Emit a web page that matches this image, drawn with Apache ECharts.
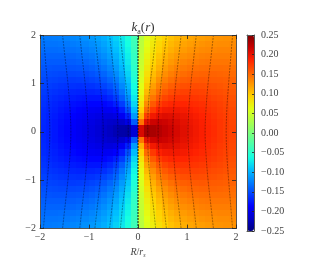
<!DOCTYPE html>
<html><head><meta charset="utf-8">
<script src="https://cdn.jsdelivr.net/npm/echarts@6/dist/echarts.min.js"></script>
<style>html,body{margin:0;padding:0;background:#fff}#c{width:316px;height:263px}</style>
</head><body><div id="c"></div>
<script>
// cell centres (R/r_s, left->right) and (z, top->bottom)
const rCenters = [-1.9375,-1.8125,-1.6875,-1.5625,-1.4375,-1.3125,-1.1875,-1.0625,-0.9375,-0.8125,-0.6875,-0.5625,-0.4375,-0.3125,-0.1875,-0.0625,
  0.0625,0.1875,0.3125,0.4375,0.5625,0.6875,0.8125,0.9375,1.0625,1.1875,1.3125,1.4375,1.5625,1.6875,1.8125,1.9375];
const zCenters = [1.9375,1.8125,1.6875,1.5625,1.4375,1.3125,1.1875,1.0625,0.9375,0.8125,0.6875,0.5625,0.4375,0.3125,0.1875,0.0625,
  -0.0625,-0.1875,-0.3125,-0.4375,-0.5625,-0.6875,-0.8125,-0.9375,-1.0625,-1.1875,-1.3125,-1.4375,-1.5625,-1.6875,-1.8125,-1.9375];
// k_a(r) values, rows top->bottom
const kaGrid = [
[-.128,-.128,-.127,-.126,-.124,-.122,-.120,-.117,-.113,-.108,-.102,-.094,-.085,-.074,-.059,-.036,.036,.059,.074,.085,.094,.102,.108,.113,.117,.120,.122,.124,.126,.127,.128,.128],
[-.132,-.131,-.131,-.130,-.129,-.127,-.125,-.122,-.118,-.113,-.107,-.099,-.090,-.078,-.062,-.038,.038,.062,.078,.090,.099,.107,.113,.118,.122,.125,.127,.129,.130,.131,.131,.132],
[-.135,-.135,-.135,-.134,-.133,-.132,-.130,-.127,-.123,-.118,-.112,-.104,-.094,-.082,-.066,-.040,.040,.066,.082,.094,.104,.112,.118,.123,.127,.130,.132,.133,.134,.135,.135,.135],
[-.139,-.139,-.139,-.139,-.138,-.137,-.135,-.132,-.129,-.124,-.118,-.110,-.100,-.087,-.070,-.043,.043,.070,.087,.100,.110,.118,.124,.129,.132,.135,.137,.138,.139,.139,.139,.139],
[-.142,-.143,-.143,-.143,-.143,-.142,-.140,-.138,-.135,-.130,-.124,-.116,-.106,-.092,-.074,-.045,.045,.074,.092,.106,.116,.124,.130,.135,.138,.140,.142,.143,.143,.143,.143,.142],
[-.146,-.147,-.148,-.148,-.148,-.147,-.146,-.144,-.141,-.137,-.131,-.123,-.112,-.098,-.079,-.048,.048,.079,.098,.112,.123,.131,.137,.141,.144,.146,.147,.148,.148,.148,.147,.146],
[-.149,-.151,-.152,-.153,-.153,-.153,-.152,-.151,-.148,-.144,-.138,-.130,-.119,-.105,-.085,-.052,.052,.085,.105,.119,.130,.138,.144,.148,.151,.152,.153,.153,.153,.152,.151,.149],
[-.153,-.155,-.156,-.157,-.158,-.159,-.158,-.157,-.155,-.152,-.146,-.138,-.128,-.112,-.091,-.056,.056,.091,.112,.128,.138,.146,.152,.155,.157,.158,.159,.158,.157,.156,.155,.153],
[-.156,-.158,-.160,-.162,-.163,-.164,-.165,-.164,-.163,-.160,-.155,-.148,-.137,-.121,-.098,-.061,.061,.098,.121,.137,.148,.155,.160,.163,.164,.165,.164,.163,.162,.160,.158,.156],
[-.159,-.162,-.164,-.166,-.168,-.170,-.171,-.171,-.171,-.169,-.165,-.158,-.147,-.131,-.107,-.066,.066,.107,.131,.147,.158,.165,.169,.171,.171,.171,.170,.168,.166,.164,.162,.159],
[-.162,-.165,-.168,-.170,-.173,-.175,-.177,-.178,-.178,-.178,-.175,-.169,-.159,-.143,-.118,-.073,.073,.118,.143,.159,.169,.175,.178,.178,.178,.177,.175,.173,.170,.168,.165,.162],
[-.164,-.168,-.171,-.174,-.177,-.180,-.182,-.184,-.186,-.186,-.185,-.181,-.173,-.158,-.132,-.082,.082,.132,.158,.173,.181,.185,.186,.186,.184,.182,.180,.177,.174,.171,.168,.164],
[-.167,-.170,-.173,-.177,-.180,-.184,-.187,-.190,-.193,-.195,-.195,-.194,-.188,-.175,-.149,-.095,.095,.149,.175,.188,.194,.195,.195,.193,.190,.187,.184,.180,.177,.173,.170,.167],
[-.168,-.172,-.175,-.179,-.183,-.187,-.191,-.195,-.199,-.202,-.205,-.206,-.203,-.195,-.172,-.112,.112,.172,.195,.203,.206,.205,.202,.199,.195,.191,.187,.183,.179,.175,.172,.168],
[-.169,-.173,-.177,-.181,-.185,-.189,-.194,-.198,-.203,-.208,-.212,-.216,-.218,-.216,-.202,-.143,.143,.202,.216,.218,.216,.212,.208,.203,.198,.194,.189,.185,.181,.177,.173,.169],
[-.170,-.173,-.177,-.182,-.186,-.190,-.195,-.200,-.205,-.211,-.216,-.221,-.227,-.232,-.234,-.210,.210,.234,.232,.227,.221,.216,.211,.205,.200,.195,.190,.186,.182,.177,.173,.170],
[-.170,-.173,-.177,-.182,-.186,-.190,-.195,-.200,-.205,-.211,-.216,-.221,-.227,-.232,-.234,-.210,.210,.234,.232,.227,.221,.216,.211,.205,.200,.195,.190,.186,.182,.177,.173,.170],
[-.169,-.173,-.177,-.181,-.185,-.189,-.194,-.198,-.203,-.208,-.212,-.216,-.218,-.216,-.202,-.143,.143,.202,.216,.218,.216,.212,.208,.203,.198,.194,.189,.185,.181,.177,.173,.169],
[-.168,-.172,-.175,-.179,-.183,-.187,-.191,-.195,-.199,-.202,-.205,-.206,-.203,-.195,-.172,-.112,.112,.172,.195,.203,.206,.205,.202,.199,.195,.191,.187,.183,.179,.175,.172,.168],
[-.167,-.170,-.173,-.177,-.180,-.184,-.187,-.190,-.193,-.195,-.195,-.194,-.188,-.175,-.149,-.095,.095,.149,.175,.188,.194,.195,.195,.193,.190,.187,.184,.180,.177,.173,.170,.167],
[-.164,-.168,-.171,-.174,-.177,-.180,-.182,-.184,-.186,-.186,-.185,-.181,-.173,-.158,-.132,-.082,.082,.132,.158,.173,.181,.185,.186,.186,.184,.182,.180,.177,.174,.171,.168,.164],
[-.162,-.165,-.168,-.170,-.173,-.175,-.177,-.178,-.178,-.178,-.175,-.169,-.159,-.143,-.118,-.073,.073,.118,.143,.159,.169,.175,.178,.178,.178,.177,.175,.173,.170,.168,.165,.162],
[-.159,-.162,-.164,-.166,-.168,-.170,-.171,-.171,-.171,-.169,-.165,-.158,-.147,-.131,-.107,-.066,.066,.107,.131,.147,.158,.165,.169,.171,.171,.171,.170,.168,.166,.164,.162,.159],
[-.156,-.158,-.160,-.162,-.163,-.164,-.165,-.164,-.163,-.160,-.155,-.148,-.137,-.121,-.098,-.061,.061,.098,.121,.137,.148,.155,.160,.163,.164,.165,.164,.163,.162,.160,.158,.156],
[-.153,-.155,-.156,-.157,-.158,-.159,-.158,-.157,-.155,-.152,-.146,-.138,-.128,-.112,-.091,-.056,.056,.091,.112,.128,.138,.146,.152,.155,.157,.158,.159,.158,.157,.156,.155,.153],
[-.149,-.151,-.152,-.153,-.153,-.153,-.152,-.151,-.148,-.144,-.138,-.130,-.119,-.105,-.085,-.052,.052,.085,.105,.119,.130,.138,.144,.148,.151,.152,.153,.153,.153,.152,.151,.149],
[-.146,-.147,-.148,-.148,-.148,-.147,-.146,-.144,-.141,-.137,-.131,-.123,-.112,-.098,-.079,-.048,.048,.079,.098,.112,.123,.131,.137,.141,.144,.146,.147,.148,.148,.148,.147,.146],
[-.142,-.143,-.143,-.143,-.143,-.142,-.140,-.138,-.135,-.130,-.124,-.116,-.106,-.092,-.074,-.045,.045,.074,.092,.106,.116,.124,.130,.135,.138,.140,.142,.143,.143,.143,.143,.142],
[-.139,-.139,-.139,-.139,-.138,-.137,-.135,-.132,-.129,-.124,-.118,-.110,-.100,-.087,-.070,-.043,.043,.070,.087,.100,.110,.118,.124,.129,.132,.135,.137,.138,.139,.139,.139,.139],
[-.135,-.135,-.135,-.134,-.133,-.132,-.130,-.127,-.123,-.118,-.112,-.104,-.094,-.082,-.066,-.040,.040,.066,.082,.094,.104,.112,.118,.123,.127,.130,.132,.133,.134,.135,.135,.135],
[-.132,-.131,-.131,-.130,-.129,-.127,-.125,-.122,-.118,-.113,-.107,-.099,-.090,-.078,-.062,-.038,.038,.062,.078,.090,.099,.107,.113,.118,.122,.125,.127,.129,.130,.131,.131,.132],
[-.128,-.128,-.127,-.126,-.124,-.122,-.120,-.117,-.113,-.108,-.102,-.094,-.085,-.074,-.059,-.036,.036,.059,.074,.085,.094,.102,.108,.113,.117,.120,.122,.124,.126,.127,.128,.128]
];
const axisTickValues = [-2,-1,0,1,2];
const cbTickValues = [-0.25,-0.20,-0.15,-0.10,-0.05,0,0.05,0.10,0.15,0.20,0.25];
const jetColors = ['#000080','#0000c8','#0000ff','#0040ff','#0080ff','#00bfff','#14ffe2','#48ffaf','#7bff7b','#afff48','#e2ff14','#ffd200','#ff9700','#ff5c00','#ff2100','#c80000','#800000'];
// overlaid contour lines, [R, z] points
const contourLines = [
 [[0,2],[0,-2]],
 [[0.36,2],[0.31,1.5],[0.25,1],[0.21,0.5],[0.2,0],[0.21,-0.5],[0.25,-1],[0.31,-1.5],[0.36,-2]],
 [[0.58,2],[0.525,1.5],[0.47,1],[0.43,0.5],[0.41,0],[0.43,-0.5],[0.47,-1],[0.525,-1.5],[0.58,-2]],
 [[0.88,2],[0.825,1.5],[0.77,1],[0.73,0.5],[0.71,0],[0.73,-0.5],[0.77,-1],[0.825,-1.5],[0.88,-2]],
 [[1.19,2],[1.135,1.5],[1.08,1],[1.04,0.5],[1.02,0],[1.04,-0.5],[1.08,-1],[1.135,-1.5],[1.19,-2]],
 [[1.54,2],[1.485,1.5],[1.43,1],[1.39,0.5],[1.37,0],[1.39,-0.5],[1.43,-1],[1.485,-1.5],[1.54,-2]],
 [[1.93,2],[1.89,1.5],[1.85,1],[1.815,0.5],[1.80,0],[1.815,-0.5],[1.85,-1],[1.89,-1.5],[1.93,-2]],
 [[-0.36,2],[-0.31,1.5],[-0.25,1],[-0.21,0.5],[-0.2,0],[-0.21,-0.5],[-0.25,-1],[-0.31,-1.5],[-0.36,-2]],
 [[-0.58,2],[-0.525,1.5],[-0.47,1],[-0.43,0.5],[-0.41,0],[-0.43,-0.5],[-0.47,-1],[-0.525,-1.5],[-0.58,-2]],
 [[-0.88,2],[-0.825,1.5],[-0.77,1],[-0.73,0.5],[-0.71,0],[-0.73,-0.5],[-0.77,-1],[-0.825,-1.5],[-0.88,-2]],
 [[-1.19,2],[-1.135,1.5],[-1.08,1],[-1.04,0.5],[-1.02,0],[-1.04,-0.5],[-1.08,-1],[-1.135,-1.5],[-1.19,-2]],
 [[-1.54,2],[-1.485,1.5],[-1.43,1],[-1.39,0.5],[-1.37,0],[-1.39,-0.5],[-1.43,-1],[-1.485,-1.5],[-1.54,-2]],
 [[-1.93,2],[-1.89,1.5],[-1.85,1],[-1.815,0.5],[-1.80,0],[-1.815,-0.5],[-1.85,-1],[-1.89,-1.5],[-1.93,-2]]
];

const cells = [];
for (let i = 0; i < zCenters.length; i++)
  for (let j = 0; j < rCenters.length; j++)
    cells.push([rCenters[j], zCenters[i], kaGrid[i][j]]);
const halfR = (rCenters[1] - rCenters[0]) / 2;
const halfZ = (zCenters[0] - zCenters[1]) / 2;

const FONT = 'Liberation Serif';
const TXT = '#444';
const FRAME = '#555';
const minus = v => (Math.abs(v) < 1e-9 ? '0' : (v < 0 ? '\u2212' + Math.abs(v) : '' + v));
const cbFmt = v => (Math.abs(v) < 1e-9 ? '0.00' : (v < 0 ? '\u2212' : '') + Math.abs(v).toFixed(2));

function mainAxis(pos, labels, extra) {
  return Object.assign({
    gridIndex: 0, type: 'value', min: -2, max: 2, interval: 1, position: pos, z: 10,
    axisLine: { show: true, onZero: false, lineStyle: { color: FRAME, width: 1 } },
    axisTick: { show: true, inside: true, length: 4, lineStyle: { color: '#222', width: 0.8 } },
    axisLabel: { show: labels, formatter: minus, fontFamily: FONT, fontSize: 10, color: TXT, margin: 4 },
    splitLine: { show: false }
  }, extra || {});
}
function cbFrame(pos, isX) {
  const o = { gridIndex: 1, type: 'value', position: pos, z: 10,
    axisLine: { show: true, onZero: false, lineStyle: { color: FRAME, width: 1 } },
    axisTick: { show: false }, axisLabel: { show: false }, splitLine: { show: false } };
  if (isX) { o.min = 0; o.max = 1; } else { o.min = -0.25; o.max = 0.25; }
  return o;
}

const option = {
  animation: false,
  backgroundColor: '#fff',
  title: {
    text: '{i|k}{s|a}{n|(}{i|r}{n|)}', left: 138, top: 15, textAlign: 'center',
    textStyle: { fontWeight: 'normal', rich: {
      i: { fontFamily: FONT, fontStyle: 'italic', fontWeight: 'normal', fontSize: 13, color: '#333', lineHeight: 16 },
      n: { fontFamily: FONT, fontWeight: 'normal', fontSize: 13, color: '#333', lineHeight: 16 },
      s: { fontFamily: FONT, fontWeight: 'normal', fontSize: 8, color: '#333', lineHeight: 8, verticalAlign: 'bottom' }
    } }
  },
  grid: [
    { left: 40, top: 35, width: 196, height: 196, containLabel: false },
    { left: 247, top: 35, width: 7, height: 196, containLabel: false }
  ],
  xAxis: [
    mainAxis('bottom', true, {
      name: '{i|R}{n|/}{i|r}{s|s}', nameLocation: 'middle', nameGap: 12,
      nameTextStyle: { rich: {
        i: { fontFamily: FONT, fontStyle: 'italic', fontSize: 10, color: TXT, lineHeight: 11 },
        n: { fontFamily: FONT, fontSize: 10, color: TXT, lineHeight: 11 },
        s: { fontFamily: FONT, fontStyle: 'italic', fontSize: 6, color: TXT, lineHeight: 6, verticalAlign: 'bottom' }
      } }
    }),
    mainAxis('top', false),
    cbFrame('bottom', true),
    cbFrame('top', true)
  ],
  yAxis: [
    mainAxis('left', true),
    mainAxis('right', false),
    Object.assign(cbFrame('right', false), {
      interval: 0.05,
      axisTick: { show: true, inside: true, length: 2, lineStyle: { color: '#222', width: 0.8 } },
      axisLabel: { show: true, formatter: cbFmt, fontFamily: FONT, fontSize: 10, color: TXT, margin: 7 }
    }),
    cbFrame('left', false)
  ],
  visualMap: {
    type: 'continuous', min: -0.25, max: 0.25, dimension: 2, seriesIndex: 0,
    calculable: false, realtime: false, hoverLink: false,
    left: 247, top: 35, itemWidth: 7, itemHeight: 196, padding: 0,
    inRange: { color: jetColors }, textStyle: { fontSize: 0 }
  },
  series: [
    {
      type: 'custom', xAxisIndex: 0, yAxisIndex: 0, data: cells, clip: true, z: 2, silent: true,
      encode: { x: 0, y: 1 },
      renderItem: function (params, api) {
        const x = api.value(0), y = api.value(1);
        const p0 = api.coord([x - halfR, y + halfZ]);
        const p1 = api.coord([x + halfR, y - halfZ]);
        const x0 = Math.floor(p0[0]), y0 = Math.floor(p0[1]);
        const x1 = Math.ceil(p1[0]), y1 = Math.ceil(p1[1]);
        return { type: 'rect', shape: { x: x0, y: y0, width: x1 - x0, height: y1 - y0 },
          style: { fill: api.visual('color') } };
      }
    }
  ].concat(contourLines.map((pts, k) => ({
    type: 'line', xAxisIndex: 0, yAxisIndex: 0, data: pts, showSymbol: false, smooth: k === 0 ? false : 0.35,
    silent: true, z: 3,
    lineStyle: k === 0 ? { color: '#111', width: 1, type: [2, 1] } : { color: 'rgba(0,0,0,0.45)', width: 0.8, type: [2, 1] }
  })))
};

const chart = echarts.init(document.getElementById('c'), null, { renderer: 'canvas' });
chart.setOption(option);
</script></body></html>
